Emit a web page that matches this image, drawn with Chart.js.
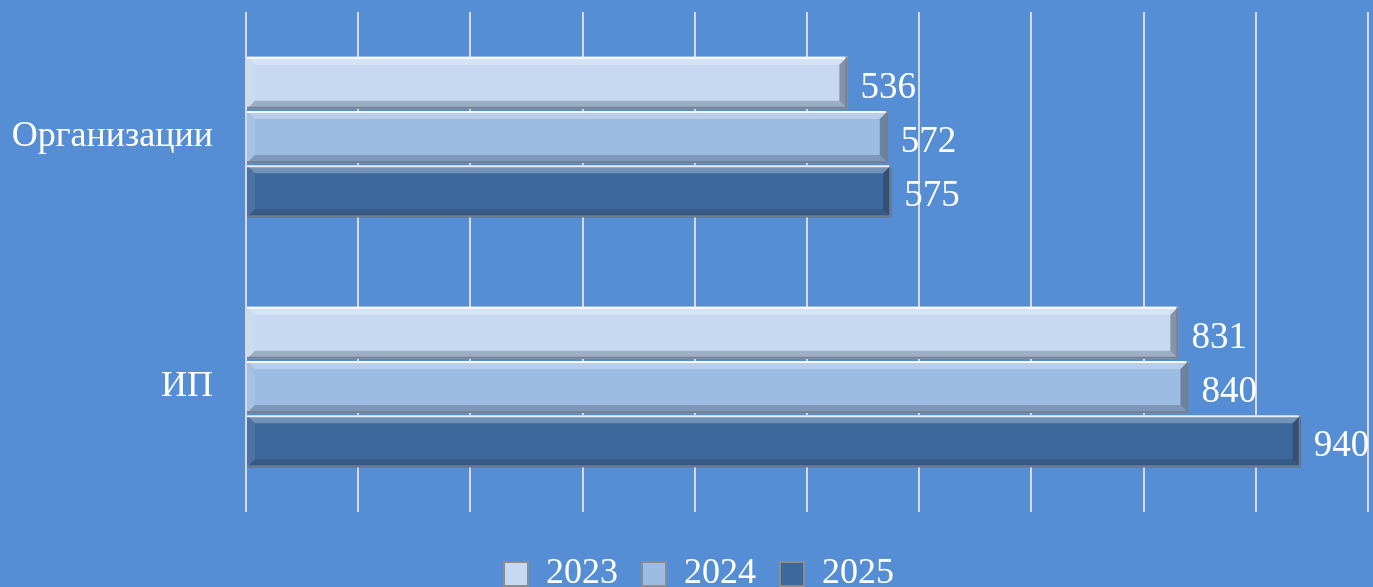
<!DOCTYPE html>
<html>
<head>
<meta charset="utf-8">
<script src="https://cdn.jsdelivr.net/npm/chart.js@4.4.1/dist/chart.umd.min.js"></script>
<style>
  html, body { margin: 0; padding: 0; background: #558ed5; }
  #wrap { width: 1373px; height: 587px; }
</style>
</head>
<body>
<div id="wrap"><canvas id="grafico"></canvas></div>
<script>
/* Dados do gráfico */
const CATEGORIAS = ['Организации', 'ИП'];
const ANOS = ['2023', '2024', '2025'];
const V2023 = [536, 831];
const V2024 = [572, 840];
const V2025 = [575, 940];
const CORES = ['#c6d9f1', '#9dbce4', '#3c689c'];
const FONTE = "'Liberation Serif', serif";

/* bisel nos retângulos + rótulo de valor à direita */
const biselEValores = {
  id: 'biselEValores',
  afterDatasetsDraw(chart) {
    const ctx = chart.ctx;
    chart.data.datasets.forEach((ds, i) => {
      const meta = chart.getDatasetMeta(i);
      meta.data.forEach((el, j) => {
        const p = el.getProps(['x', 'y', 'base', 'height'], true);
        const l = Math.min(p.base, p.x), r = Math.max(p.base, p.x);
        const t = p.y - p.height / 2, b = p.y + p.height / 2;
        const s = 8;
        const poli = (pts, cor) => {
          ctx.beginPath();
          ctx.moveTo(pts[0][0], pts[0][1]);
          pts.slice(1).forEach(q => ctx.lineTo(q[0], q[1]));
          ctx.closePath();
          ctx.fillStyle = cor;
          ctx.fill();
        };
        ctx.save();
        poli([[l, t], [r, t], [r - s, t + s], [l + s, t + s]], 'rgba(255,255,255,0.28)');
        poli([[l, t], [l + s, t + s], [l + s, b - s], [l, b]], 'rgba(255,255,255,0.08)');
        poli([[r, t], [r, b], [r - s, b - s], [r - s, t + s]], 'rgba(40,50,70,0.42)');
        poli([[l, b], [r, b], [r - s, b - s], [l + s, b - s]], 'rgba(40,50,70,0.26)');
        ctx.lineWidth = 2;
        ctx.strokeStyle = 'rgba(255,255,255,0.85)';
        ctx.beginPath(); ctx.moveTo(l, t + 1); ctx.lineTo(r, t + 1); ctx.stroke();
        ctx.strokeStyle = 'rgba(120,125,135,0.9)';
        ctx.beginPath(); ctx.moveTo(r - 1, t); ctx.lineTo(r - 1, b - 1); ctx.lineTo(l, b - 1); ctx.stroke();
        // valor
        ctx.font = '37px ' + FONTE;
        ctx.fillStyle = '#ffffff';
        ctx.textAlign = 'left';
        ctx.textBaseline = 'middle';
        ctx.fillText(String(ds.data[j]), r + 13, p.y + 5);
        ctx.restore();
      });
    });
  }
};

/* legenda encostada no rodapé (parte do texto sai da tela, como no original) */
const ajusteLegenda = {
  id: 'ajusteLegenda',
  afterInit(chart) {
    const leg = chart.legend;
    if (!leg) return;
    const fit = leg.fit.bind(leg);
    leg.fit = function () { fit(); this.height = 55; };
  },
  afterLayout(chart) {
    const leg = chart.legend;
    if (!leg) return;
    leg.left += 15; leg.right += 15;
  }
};

new Chart(document.getElementById('grafico'), {
  type: 'bar',
  data: {
    labels: CATEGORIAS,
    datasets: [
      { label: ANOS[0], data: V2023, backgroundColor: CORES[0] },
      { label: ANOS[1], data: V2024, backgroundColor: CORES[1] },
      { label: ANOS[2], data: V2025, backgroundColor: CORES[2] }
    ]
  },
  options: {
    indexAxis: 'y',
    responsive: true, maintainAspectRatio: false, animation: false,
    layout: { padding: { top: 12, right: 5, left: 0, bottom: 0 } },
    datasets: { bar: { categoryPercentage: 0.65, barPercentage: 0.96, borderWidth: 0 } },
    plugins: {
      tooltip: { enabled: false },
      legend: {
        position: 'bottom',
        labels: {
          color: '#ffffff', font: { family: FONTE, size: 36 },
          boxWidth: 24, boxHeight: 24, padding: 24,
          generateLabels: chart => chart.data.datasets.map((d, i) => ({
            text: d.label, fillStyle: CORES[i], strokeStyle: '#8c8c8c',
            lineWidth: 2, fontColor: '#ffffff', datasetIndex: i, hidden: false
          }))
        }
      }
    },
    scales: {
      x: {
        min: 0, max: 1000,
        ticks: { display: false, stepSize: 100 },
        grid: { color: '#d9d9d9', lineWidth: 2, drawTicks: false },
        border: { display: false },
        afterFit: s => { s.height = 20; }
      },
      y: {
        ticks: { color: '#ffffff', font: { family: FONTE, size: 36 }, padding: 33 },
        grid: { display: false, drawTicks: false },
        border: { display: false },
        afterFit: s => { s.width = 246; s.paddingTop = 0; s.paddingBottom = 0; }
      }
    }
  },
  plugins: [biselEValores, ajusteLegenda]
});
</script>
</body>
</html>
